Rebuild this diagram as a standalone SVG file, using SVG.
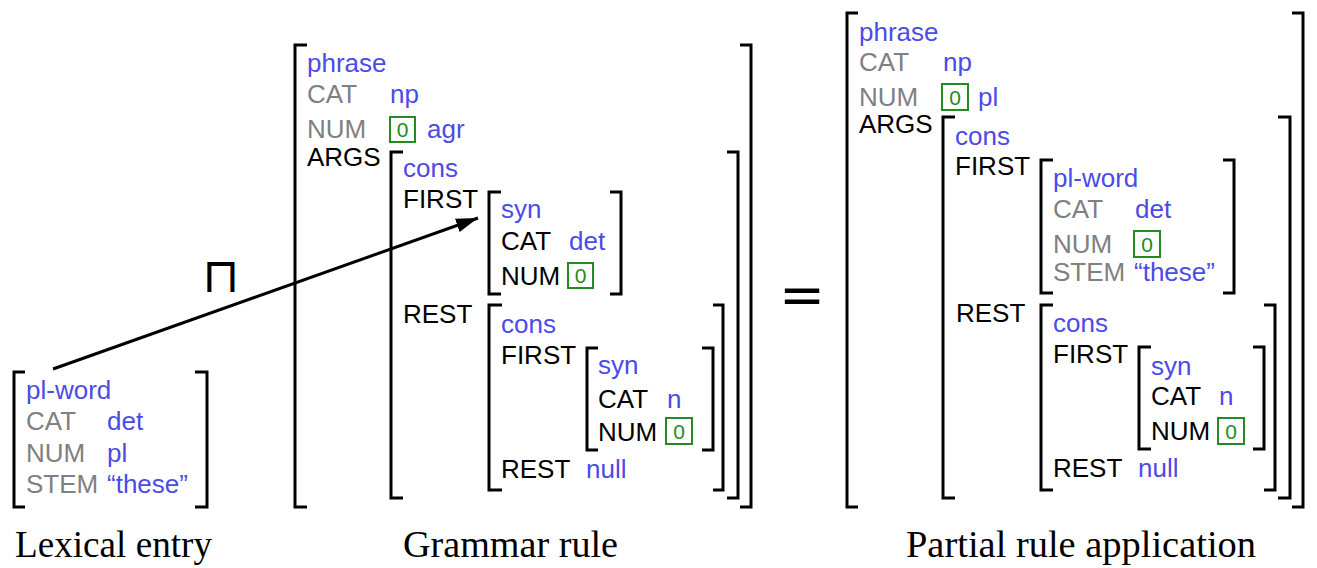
<svg xmlns="http://www.w3.org/2000/svg" width="1317" height="568" viewBox="0 0 1317 568">
<style>
text{font-family:"Liberation Sans",Arial,sans-serif;font-size:26px;fill:#000}
.v{fill:#4b4be8}
.g{fill:#808080}
.t{fill:#228b22;font-size:21px;text-anchor:middle}
.br{fill:none;stroke:#000;stroke-width:3;stroke-linejoin:miter;stroke-linecap:butt}
.box{fill:none;stroke:#228b22;stroke-width:2}
.cap{font-family:"Liberation Serif","Times New Roman",serif;font-size:37px;fill:#000}
.op{font-family:"DejaVu Sans",sans-serif;fill:#000;text-anchor:middle}
.meet{font-size:48px}
.eq{font-size:55px}
</style>
<defs>
<marker id="ah" markerUnits="userSpaceOnUse" markerWidth="24" markerHeight="16" refX="22" refY="7" orient="auto" viewBox="0 0 24 14">
<path d="M0,0 L22,7 L0,14 Z" fill="#000"/>
</marker>
</defs>

<g id="lexical-entry">
<polyline class="br" points="25,372 14,372 14,507 25,507"/>
<polyline class="br" points="195,372 207,372 207,507 195,507"/>
<text class="v" x="26" y="399">pl-word</text>
<text class="g" x="26" y="430">CAT</text><text class="v" x="107" y="430">det</text>
<text class="g" x="26" y="462">NUM</text><text class="v" x="107" y="462">pl</text>
<text class="g" x="26" y="493">STEM</text><text class="v" x="107" y="493">“these”</text>
</g>

<g id="meet-operator">
<text class="op meet" x="221" y="292">⊓</text>
</g>

<g id="grammar-rule">
<polyline class="br" points="307,45 295,45 295,507 307,507"/>
<polyline class="br" points="740,45 751,45 751,507 740,507"/>
<text class="v" x="307" y="72">phrase</text>
<text class="g" x="307" y="103">CAT</text><text class="v" x="390" y="103">np</text>
<text class="g" x="307" y="138">NUM</text>
<rect class="box" x="390" y="117" width="25" height="25"/><text class="t" x="402.5" y="137">0</text>
<text class="v" x="427" y="138">agr</text>
<text x="307" y="166">ARGS</text>
<polyline class="br" points="403,152 391,152 391,498 403,498"/>
<polyline class="br" points="727,152 738,152 738,498 727,498"/>
<text class="v" x="403" y="177">cons</text>
<text x="403" y="208">FIRST</text>
<polyline class="br" points="501,192 489,192 489,294 501,294"/>
<polyline class="br" points="610,192 621,192 621,294 610,294"/>
<text class="v" x="501" y="218">syn</text>
<text x="501" y="250">CAT</text><text class="v" x="569" y="250">det</text>
<text x="501" y="285">NUM</text>
<rect class="box" x="568" y="263" width="25" height="25"/><text class="t" x="580.5" y="283">0</text>
<text x="403" y="323">REST</text>
<polyline class="br" points="502,305 489,305 489,490 502,490"/>
<polyline class="br" points="713,305 723,305 723,490 713,490"/>
<text class="v" x="501" y="333">cons</text>
<text x="501" y="364">FIRST</text>
<polyline class="br" points="598,348 587,348 587,450 598,450"/>
<polyline class="br" points="702,348 713,348 713,450 702,450"/>
<text class="v" x="598" y="374">syn</text>
<text x="598" y="408">CAT</text><text class="v" x="667" y="408">n</text>
<text x="598" y="441">NUM</text>
<rect class="box" x="666" y="418" width="26" height="26"/><text class="t" x="679" y="439">0</text>
<text x="501" y="478">REST</text><text class="v" x="586" y="478">null</text>
</g>

<g id="equals-operator">
<text class="op eq" x="802" y="314">=</text>
</g>

<g id="partial-rule-application">
<polyline class="br" points="858,13 847,13 847,507 858,507"/>
<polyline class="br" points="1292,13 1303,13 1303,507 1292,507"/>
<text class="v" x="859" y="41">phrase</text>
<text class="g" x="859" y="71">CAT</text><text class="v" x="943" y="71">np</text>
<text class="g" x="859" y="106">NUM</text>
<rect class="box" x="942" y="84" width="26" height="26"/><text class="t" x="955" y="105">0</text>
<text class="v" x="978" y="106">pl</text>
<text x="859" y="133">ARGS</text>
<polyline class="br" points="955,117 943,117 943,498 955,498"/>
<polyline class="br" points="1278,117 1290,117 1290,498 1278,498"/>
<text class="v" x="955" y="145">cons</text>
<text x="955" y="175">FIRST</text>
<polyline class="br" points="1053,160 1041,160 1041,293 1053,293"/>
<polyline class="br" points="1223,160 1234,160 1234,293 1223,293"/>
<text class="v" x="1053" y="187">pl-word</text>
<text class="g" x="1053" y="218">CAT</text><text class="v" x="1135" y="218">det</text>
<text class="g" x="1053" y="253">NUM</text>
<rect class="box" x="1134" y="231" width="26" height="26"/><text class="t" x="1147" y="252">0</text>
<text class="g" x="1053" y="281">STEM</text><text class="v" x="1134" y="281">“these”</text>
<text x="956" y="322">REST</text>
<polyline class="br" points="1053,305 1041,305 1041,490 1053,490"/>
<polyline class="br" points="1264,305 1275,305 1275,490 1264,490"/>
<text class="v" x="1053" y="332">cons</text>
<text x="1053" y="363">FIRST</text>
<polyline class="br" points="1151,347 1139,347 1139,449 1151,449"/>
<polyline class="br" points="1253,347 1264,347 1264,449 1253,449"/>
<text class="v" x="1151" y="375">syn</text>
<text x="1151" y="405">CAT</text><text class="v" x="1219" y="405">n</text>
<text x="1151" y="440">NUM</text>
<rect class="box" x="1218" y="418" width="26" height="26"/><text class="t" x="1231" y="439">0</text>
<text x="1053" y="477">REST</text><text class="v" x="1138" y="477">null</text>
</g>

<g id="connectors">
<line x1="53" y1="369" x2="478" y2="218" stroke="#000" stroke-width="3" marker-end="url(#ah)"/>
</g>

<g id="captions">
<text class="cap" x="15" y="557" textLength="197" lengthAdjust="spacingAndGlyphs">Lexical entry</text>
<text class="cap" x="403" y="557" textLength="215" lengthAdjust="spacingAndGlyphs">Grammar rule</text>
<text class="cap" x="906" y="557" textLength="350" lengthAdjust="spacingAndGlyphs">Partial rule application</text>
</g>
</svg>
